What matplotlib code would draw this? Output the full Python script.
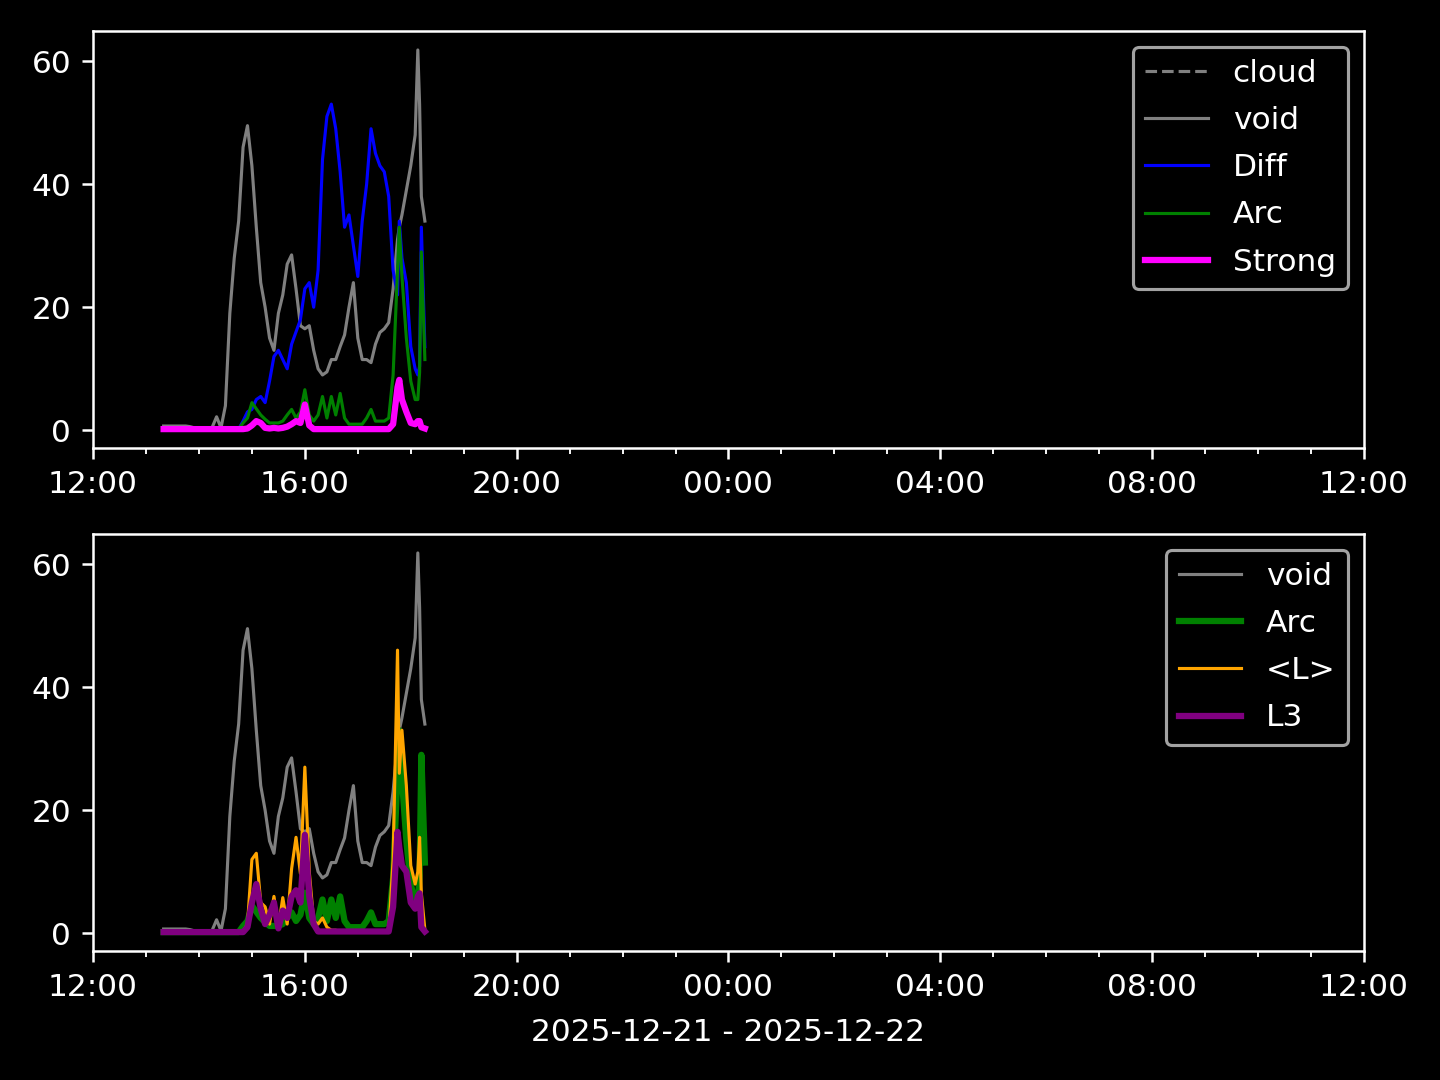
import matplotlib
matplotlib.use("Agg")
import matplotlib.dates as mdates
import matplotlib.pyplot as plt
import numpy as np
import pandas as pd

day = "2025-12-21"
x_start = "2025-12-21 12:00"
x_end = "2025-12-22 12:00"
date_label = "2025-12-21 - 2025-12-22"

times = [
    "13:20", "13:25", "13:30", "13:35", "13:40", "13:45", "13:50", "13:55",
    "14:00", "14:05", "14:10", "14:15", "14:20", "14:25", "14:30", "14:35", "14:40", "14:45", "14:50", "14:55",
    "15:00", "15:05", "15:10", "15:15", "15:20", "15:25", "15:30", "15:35", "15:40", "15:45", "15:50", "15:55",
    "16:00", "16:05", "16:10", "16:15", "16:20", "16:25", "16:30", "16:35", "16:40", "16:45", "16:50", "16:55",
    "17:00", "17:05", "17:10", "17:15", "17:20", "17:25", "17:30", "17:35", "17:40", "17:45",
    "17:47", "17:50", "17:55", "18:00", "18:05", "18:08", "18:10", "18:12", "18:16",
]

# cloud has no valid readings in this window (only shows up in the legend)
nan = np.nan
cloud = [
    nan, nan, nan, nan, nan, nan, nan, nan,
    nan, nan, nan, nan, nan, nan, nan, nan, nan, nan, nan, nan,
    nan, nan, nan, nan, nan, nan, nan, nan, nan, nan, nan, nan,
    nan, nan, nan, nan, nan, nan, nan, nan, nan, nan, nan, nan,
    nan, nan, nan, nan, nan, nan, nan, nan, nan, nan,
    nan, nan, nan, nan, nan, nan, nan, nan, nan,
]
void = [
    0.7, 0.7, 0.7, 0.7, 0.7, 0.7, 0.6, 0.4,
    0.3, 0.2, 0.2, 0.5, 2.2, 0.4, 4, 19, 28, 34, 46, 49.5,
    43, 33, 24, 20, 15, 13, 19, 22, 27, 28.5, 23, 17,
    16.5, 17, 13, 10, 9, 9.5, 11.5, 11.5, 13.6, 15.5, 20, 24,
    15, 11.5, 11.5, 11, 14, 15.9, 16.5, 17.5, 23, 31,
    33, 35, 39, 43, 48, 61.8, 53, 38, 34,
]
diff = [
    0.2, 0.2, 0.2, 0.2, 0.2, 0.2, 0.2, 0.2,
    0.2, 0.2, 0.2, 0.2, 0.2, 0.2, 0.2, 0.2, 0.2, 0.2, 1.5, 3,
    3.4, 5, 5.5, 4.5, 8, 12, 13, 11.5, 10, 14, 16, 18,
    23, 24, 20, 26, 44, 51, 53, 49, 42, 33, 35, 30,
    25, 34, 40, 49, 45, 43, 42, 38, 26, 22,
    34, 28, 24, 13.6, 10, 9, 10.4, 33, 13.6,
]
arc = [
    0.2, 0.2, 0.2, 0.2, 0.2, 0.2, 0.2, 0.2,
    0.2, 0.2, 0.2, 0.2, 0.2, 0.2, 0.2, 0.2, 0.2, 0.2, 1.2, 2,
    4.5, 3.5, 2.5, 1.8, 1.2, 1.2, 1.2, 1.5, 2.5, 3.4, 2, 3,
    6.6, 2.5, 1.5, 2.5, 5.5, 2, 5.5, 2.5, 6, 2, 1, 1,
    1, 1, 2, 3.4, 1.5, 1.5, 1.5, 2, 9, 26,
    33, 25, 15, 8, 5, 5, 9.4, 29, 11.5,
]
strong = [
    0.2, 0.2, 0.2, 0.2, 0.2, 0.2, 0.2, 0.2,
    0.2, 0.2, 0.2, 0.2, 0.2, 0.2, 0.2, 0.2, 0.2, 0.2, 0.2, 0.3,
    0.8, 1.5, 1.2, 0.4, 0.3, 0.4, 0.3, 0.4, 0.6, 1, 1.5, 1.2,
    4.2, 0.8, 0.2, 0.2, 0.2, 0.2, 0.2, 0.2, 0.2, 0.2, 0.2, 0.2,
    0.2, 0.2, 0.2, 0.2, 0.2, 0.2, 0.2, 0.2, 1, 7,
    8.2, 5, 3, 1.2, 1, 1.5, 1.5, 0.5, 0.3,
]
mean_l = [
    0.2, 0.2, 0.2, 0.2, 0.2, 0.2, 0.2, 0.2,
    0.2, 0.2, 0.2, 0.2, 0.2, 0.2, 0.2, 0.2, 0.2, 0.2, 0.2, 1.5,
    12, 13, 5, 4.3, 1.5, 6, 1, 5.8, 1.5, 10.5, 15.6, 9.7,
    27, 10, 2, 1.5, 2.5, 1, 0.5, 0.5, 0.3, 0.3, 0.3, 0.3,
    0.3, 0.3, 0.3, 0.3, 0.3, 0.3, 0.3, 0.3, 12, 46,
    26, 33, 24, 11, 8, 10, 15.6, 6.5, 0.6,
]
l3 = [
    0.2, 0.2, 0.2, 0.2, 0.2, 0.2, 0.2, 0.2,
    0.2, 0.2, 0.2, 0.2, 0.2, 0.2, 0.2, 0.2, 0.2, 0.2, 0.2, 1,
    5, 8, 4, 1.5, 3, 5, 0.8, 3.7, 2.5, 6, 7, 5,
    16, 6, 1.5, 0.3, 0.3, 0.3, 0.3, 0.3, 0.3, 0.3, 0.3, 0.3,
    0.3, 0.3, 0.3, 0.3, 0.3, 0.3, 0.3, 0.3, 4.3, 16.5,
    14, 11, 10, 5, 4, 6, 6.5, 1, 0.3,
]


def main() -> None:
    plt.style.use("dark_background")
    t = pd.to_datetime([f"{day} {s}" for s in times])

    fig, (ax1, ax2) = plt.subplots(2, 1, figsize=(6.4, 4.8), dpi=225)
    fig.subplots_adjust(left=0.0646, right=0.9472, top=0.9713, bottom=0.1194, hspace=0.206)

    ax1.plot(t, cloud, color="gray", ls="--", lw=1, label="cloud")
    ax1.plot(t, void, color="gray", lw=1, label="void")
    ax1.plot(t, diff, color="blue", lw=1, label="Diff")
    ax1.plot(t, arc, color="green", lw=1, label="Arc")
    ax1.plot(t, strong, color="magenta", lw=2, label="Strong")

    ax2.plot(t, void, color="gray", lw=1, label="void")
    ax2.plot(t, arc, color="green", lw=2, label="Arc")
    ax2.plot(t, mean_l, color="orange", lw=1, label="<L>")
    ax2.plot(t, l3, color="purple", lw=2, label="L3")

    for ax in (ax1, ax2):
        ax.set_xlim(pd.Timestamp(x_start), pd.Timestamp(x_end))
        ax.xaxis.set_major_locator(mdates.HourLocator(byhour=range(0, 24, 4)))
        ax.xaxis.set_minor_locator(mdates.HourLocator())
        ax.xaxis.set_major_formatter(mdates.DateFormatter("%H:%M"))
        ax.legend(loc="upper right", labelspacing=0.58)

    ax2.set_xlabel(date_label, labelpad=5.3)
    fig.savefig("out.png", dpi=225)


if __name__ == "__main__":
    main()
